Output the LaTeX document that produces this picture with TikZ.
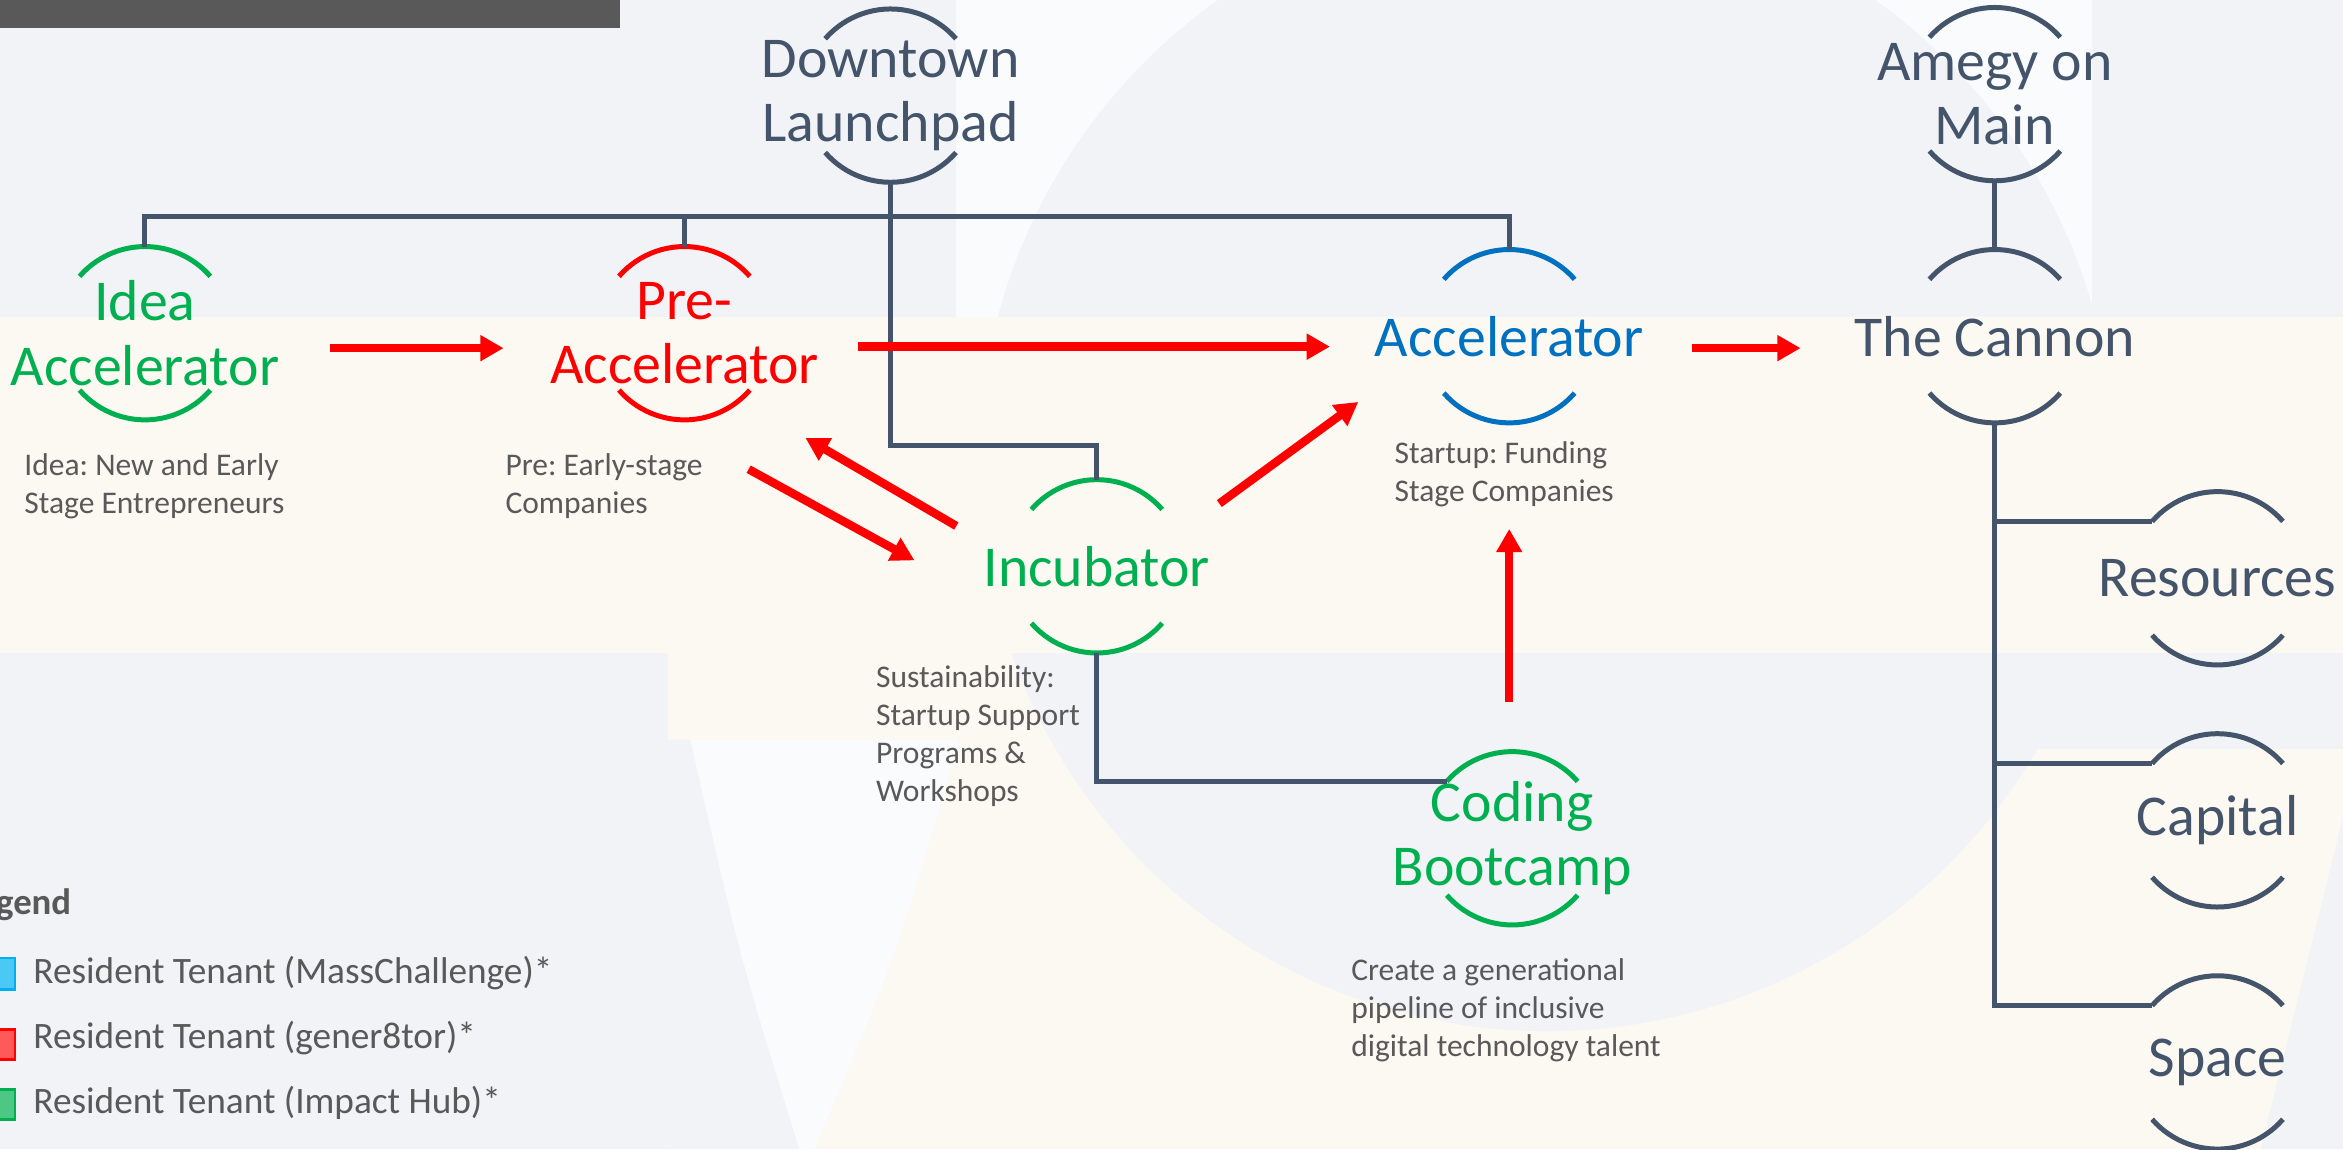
\documentclass[tikz,border=0pt]{standalone}
\usepackage{fontspec}
\setmainfont{Carlito}
\frenchspacing
\usetikzlibrary{arrows.meta,calc}

\definecolor{slate}{HTML}{44546A}
\definecolor{igreen}{HTML}{00B050}
\definecolor{ired}{HTML}{FF0000}
\definecolor{iblue}{HTML}{0070C0}
\definecolor{keyblue}{HTML}{00B0F0}
\definecolor{descgray}{HTML}{595959}
\definecolor{bggray}{HTML}{F1F3F6}
\definecolor{bgcream}{HTML}{FCF8F2}
\definecolor{bgwhite}{HTML}{FAFBFC}

\tikzset{
  lbl/.style={inner sep=0pt, align=center, font=\fontsize{22}{24.5}\selectfont},
  desc/.style={inner sep=0pt, anchor=north west, align=left, text=descgray,
    font=\fontsize{12}{14.5}\selectfont},
  keytext/.style={inner sep=0pt, anchor=base west, text=descgray,
    font=\fontsize{14.2}{16}\selectfont},
  arcline/.style={line width=1.9pt},
  link/.style={draw=slate, line width=1.9pt},
  flow/.style={draw=ired, line width=3.2pt, -{Triangle[length=3.1mm,width=3.3mm]}}
}

\begin{document}
\begin{tikzpicture}[x=0.2mm, y=0.2mm]
    \useasboundingbox (0,0) rectangle (1568,-769);
    \clip (0,0) rectangle (1568,-769);

    % Background
    \fill[bggray] (0,0) rectangle (1568,-769);
    \fill[bgwhite] (640,0) rectangle (1400,-212);
    \fill[bgcream] (447,-437) rectangle (1568,-769);
    \fill[bggray] (447,-437) -- (447,-495) -- (462,-495)
        .. controls (495,-640) .. (535,-769) -- (447,-769) -- cycle;
    \fill[bgwhite] (462,-495) -- (642,-495) .. controls (600,-640) .. (545,-769)
        -- (535,-769) .. controls (495,-640) .. (462,-495) -- cycle;
    \fill[bggray] (1035,-437) rectangle (1568,-501);
    \fill[bggray] (1513,-769) .. controls (1540,-660) .. (1568,-547) -- (1568,-769) -- cycle;
    \fill[bggray] (1035,-310) circle[radius=380];
    \fill[bgcream] (0,-212) rectangle (1568,-437);
    \fill[descgray] (0,0) rectangle (415,-19);

    % Program nodes
    \node[lbl, text=slate]  (launch) at (596,-64)   {Downtown\\Launchpad};
    \node[lbl, text=slate]  (amegy)  at (1335,-63)  {Amegy on\\Main};
    \node[lbl, text=igreen] (idea)   at (97,-223)   {Idea\\Accelerator};
    \node[lbl, text=ired]   (pre)    at (458,-223)  {Pre-\\Accelerator};
    \node[lbl, text=iblue]  (accel)  at (1010,-225) {Accelerator};
    \node[lbl, text=slate]  (cannon) at (1335,-225) {The Cannon};
    \node[lbl, text=igreen] (incub)  at (734,-379)  {Incubator};
    \node[lbl, text=igreen] (coding) at (1012,-561) {Coding\\Bootcamp};
    \node[lbl, text=slate]  (res)    at (1484,-387) {Resources};
    \node[lbl, text=slate]  (cap)    at (1484,-549) {Capital};
    \node[lbl, text=slate]  (space)  at (1484,-711) {Space};

    % Arcs above and below each node
    \foreach \n/\c in {launch/slate, amegy/slate, idea/igreen, pre/ired, accel/iblue,
                       cannon/slate, incub/igreen, coding/igreen, res/slate, cap/slate, space/slate} {
        \draw[arcline, draw=\c] (\n.center) ++(139:58) arc[start angle=139, end angle=41, radius=58];
        \draw[arcline, draw=\c] (\n.center) ++(221:58) arc[start angle=221, end angle=319, radius=58];
        \path (\n.center) ++(0,58) coordinate (\n-t) ++(0,-116) coordinate (\n-b);
        \path (\n.center) ++(139:58) coordinate (\n-l);
    }

    % Tree lines
    \coordinate (bus) at (596,-145);
    \draw[link] (launch-b) -- ++(0,-176) -| (incub-t);
    \draw[link] (idea-t) |- (bus) -| (accel-t);
    \draw[link] (pre-t) |- (bus);
    \draw[link] (amegy-b) -- (cannon-t);
    \draw[link] (cannon-b) |- (space-l);
    \draw[link] (cannon-b) |- (res-l);
    \draw[link] (cannon-b) |- (cap-l);
    \draw[link] (incub-b) |- (coding-l);

    % Flow arrows
    \draw[flow] ($(idea)+(124,-10)$) -- ($(pre)+(-121,-10)$);
    \draw[flow] ($(pre)+(116,-9)$) -- ($(accel)+(-120,-7)$);
    \draw[flow] ($(accel)+(122,-8)$) -- ($(cannon)+(-130,-8)$);
    \draw[flow] ($(incub)+(-94,27)$) -- ($(pre)+(81,-70)$);
    \draw[flow] ($(pre)+(43,-91)$) -- ($(incub)+(-122,4)$);
    \draw[flow] ($(incub)+(82,42)$) -- ($(accel)+(-101,-44)$);
    \draw[flow] ($(coding)+(-2,91)$) -- ($(accel)+(0,-129)$);

    % Notes
    \node[desc] (ideanote)   at (16,-303)  {Idea: New and Early\\Stage Entrepreneurs};
    \node[desc] (prenote)    at (338,-303) {Pre: Early-stage\\Companies};
    \node[desc] (accelnote)  at (933,-295) {Startup: Funding\\Stage Companies};
    \node[desc] (incubnote)  at (586,-445) {Sustainability:\\Startup Support\\Programs \&\\Workshops};
    \node[desc] (codingnote) at (904,-641) {Create a generational\\pipeline of inclusive\\digital technology talent};

    % Legend
    \node[inner sep=0pt, anchor=base east, text=descgray,
          font=\bfseries\fontsize{14}{16}\selectfont] (legend) at (48,-612) {Legend};
    \filldraw[draw=keyblue, fill=keyblue!70!white, line width=1pt] (-11,-641) rectangle (10,-662);
    \filldraw[draw=ired, fill=ired!65!white, line width=1pt] (-11,-689) rectangle (10,-709);
    \filldraw[draw=igreen, fill=igreen!70!white, line width=1pt] (-11,-729) rectangle (10,-749);
    \node[keytext] (mass)   at (22,-658) {Resident Tenant (MassChallenge)*};
    \node[keytext] (gener)  at (22,-702) {Resident Tenant (gener8tor)*};
    \node[keytext] (impact) at (22,-745) {Resident Tenant (Impact Hub)*};
\end{tikzpicture}
\end{document}
